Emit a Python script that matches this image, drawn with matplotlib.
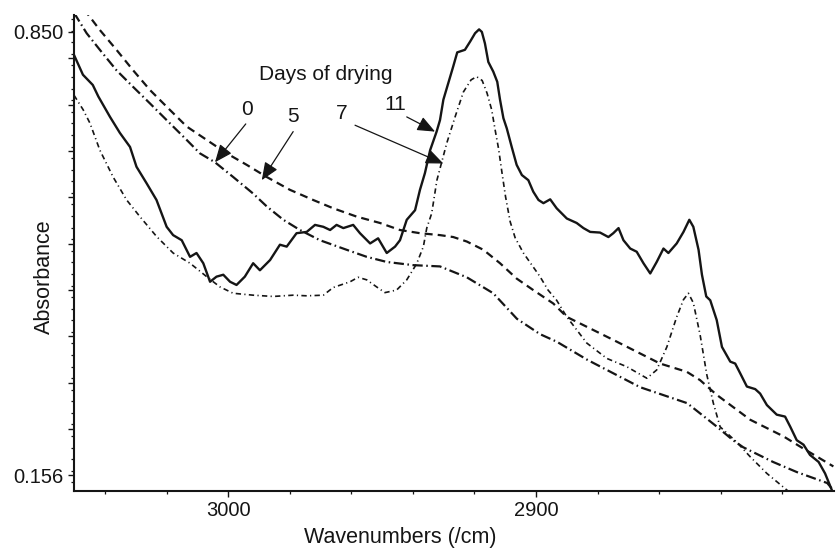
import matplotlib
matplotlib.use("Agg")
import matplotlib.pyplot as plt
from matplotlib.ticker import FixedLocator, FixedFormatter, MultipleLocator

plt.rcParams['font.family'] = ['Liberation Sans', 'DejaVu Sans']

# ---------------- data ----------------
# Day 11 (solid)
wn_d11 = [3050.1, 3047.2, 3044.0, 3042.2, 3038.4, 3035.2, 3031.9, 3029.8, 3026.5, 3023.3,
          3020.0, 3017.9, 3015.1, 3012.4, 3010.3, 3008.1, 3005.9, 3003.8, 3001.6, 2999.4,
          2997.3, 2994.6, 2991.9, 2989.7, 2986.4, 2983.2, 2981.0, 2977.8, 2974.5, 2971.8,
          2969.1, 2966.9, 2964.8, 2962.6, 2959.4, 2957.2, 2953.9, 2951.3, 2948.5, 2945.8,
          2944.2, 2942.0, 2939.3, 2937.7, 2936.1, 2934.4, 2932.3, 2931.2, 2930.1, 2928.5,
          2926.9, 2925.6, 2923.1, 2921.4, 2919.8, 2918.5, 2917.6, 2916.6, 2915.5, 2913.9,
          2912.6, 2911.7, 2910.6, 2909.5, 2907.9, 2906.3, 2904.6, 2902.5, 2900.9, 2899.2,
          2897.6, 2895.4, 2893.3, 2890.0, 2886.8, 2884.6, 2882.4, 2879.2, 2876.5, 2874.9,
          2873.2, 2871.6, 2869.4, 2867.3, 2865.1, 2862.9, 2860.8, 2858.6, 2857.0, 2854.3,
          2852.1, 2850.2, 2848.9, 2847.2, 2846.1, 2844.7, 2843.4, 2841.3, 2839.6, 2836.9,
          2835.3, 2833.7, 2831.5, 2828.8, 2827.2, 2825.0, 2821.8, 2819.1, 2817.4, 2815.3,
          2813.1, 2811.0, 2808.2, 2806.1, 2803.9]
ab_d11 = [0.814, 0.783, 0.767, 0.749, 0.717, 0.692, 0.670, 0.639, 0.613, 0.587,
          0.545, 0.532, 0.524, 0.498, 0.504, 0.488, 0.459, 0.467, 0.470, 0.459,
          0.454, 0.467, 0.488, 0.477, 0.493, 0.517, 0.514, 0.535, 0.537, 0.548,
          0.545, 0.540, 0.548, 0.543, 0.548, 0.535, 0.519, 0.527, 0.504, 0.514,
          0.524, 0.556, 0.571, 0.603, 0.629, 0.665, 0.694, 0.712, 0.744, 0.770,
          0.796, 0.818, 0.822, 0.835, 0.848, 0.854, 0.850, 0.832, 0.803, 0.788,
          0.772, 0.744, 0.715, 0.699, 0.670, 0.642, 0.626, 0.618, 0.600, 0.587,
          0.582, 0.588, 0.574, 0.558, 0.551, 0.543, 0.537, 0.536, 0.529, 0.535,
          0.543, 0.524, 0.511, 0.506, 0.488, 0.472, 0.490, 0.511, 0.504, 0.519,
          0.537, 0.556, 0.545, 0.509, 0.470, 0.436, 0.430, 0.399, 0.357, 0.334,
          0.331, 0.316, 0.295, 0.291, 0.284, 0.266, 0.251, 0.248, 0.232, 0.211,
          0.204, 0.188, 0.177, 0.159, 0.133]

# Day 5 (dashed)
wn_d5 = [3050.1, 3045.5, 3041.7, 3036.3, 3030.9, 3025.4, 3020.0, 3013.5, 3007.0, 3000.5,
         2994.0, 2987.5, 2980.0, 2972.4, 2965.9, 2958.3, 2950.7, 2944.2, 2937.7, 2931.2,
         2926.9, 2922.5, 2917.1, 2911.7, 2906.3, 2900.9, 2894.4, 2890.0, 2874.9, 2859.7,
         2851.0, 2846.7, 2841.3, 2830.4, 2819.6, 2814.2, 2803.4]
ab_d5 = [0.905, 0.877, 0.853, 0.822, 0.790, 0.759, 0.733, 0.702, 0.681, 0.660,
         0.642, 0.623, 0.603, 0.587, 0.574, 0.561, 0.551, 0.540, 0.535, 0.532,
         0.529, 0.522, 0.509, 0.488, 0.464, 0.446, 0.425, 0.404, 0.368, 0.331,
         0.318, 0.305, 0.282, 0.243, 0.217, 0.201, 0.170]

# Day 0 (dash-dot)
wn_d0 = [3050.1, 3046.0, 3041.7, 3036.3, 3030.9, 3025.4, 3020.0, 3013.5, 3009.2, 3004.3,
         2998.4, 2991.9, 2987.5, 2982.1, 2976.7, 2970.2, 2961.5, 2955.0, 2948.5, 2939.9,
         2931.2, 2922.5, 2913.9, 2906.2, 2898.7, 2893.2, 2883.4, 2866.2, 2850.9, 2841.2,
         2836.0, 2832.7, 2823.0, 2815.2, 2805.4, 2803.5]
ab_d0 = [0.880, 0.848, 0.822, 0.790, 0.764, 0.738, 0.712, 0.681, 0.660, 0.646,
         0.623, 0.597, 0.577, 0.556, 0.540, 0.524, 0.509, 0.498, 0.490, 0.485,
         0.483, 0.466, 0.441, 0.401, 0.377, 0.365, 0.337, 0.294, 0.269, 0.232,
         0.211, 0.200, 0.177, 0.161, 0.144, 0.133]

# Day 7 (thin dash-dot)
wn_d7 = [3050.1, 3047.1, 3044.9, 3041.7, 3037.4, 3033.0, 3028.7, 3023.3, 3017.9, 3012.4,
         3007.0, 3002.7, 2998.4, 2991.9, 2985.4, 2978.9, 2974.5, 2969.1, 2965.9, 2960.4,
         2957.8, 2955.0, 2951.8, 2949.1, 2945.3, 2942.0, 2938.8, 2936.6, 2935.5, 2933.9,
         2932.2, 2929.0, 2926.3, 2923.6, 2921.1, 2919.3, 2917.5, 2915.9, 2914.4, 2913.3,
         2912.2, 2911.1, 2909.9, 2908.4, 2906.8, 2904.1, 2898.7, 2896.1, 2893.3, 2890.0,
         2883.5, 2877.0, 2870.5, 2864.0, 2860.8, 2857.5, 2854.3, 2852.1, 2850.5, 2848.9,
         2846.7, 2844.5, 2842.4, 2840.2, 2834.8, 2830.4, 2825.0, 2818.5, 2814.2]
ab_d7 = [0.751, 0.728, 0.707, 0.665, 0.623, 0.587, 0.561, 0.530, 0.504, 0.488,
         0.467, 0.451, 0.441, 0.438, 0.436, 0.438, 0.437, 0.438, 0.450, 0.459,
         0.466, 0.462, 0.451, 0.442, 0.446, 0.462, 0.487, 0.514, 0.543, 0.566,
         0.618, 0.676, 0.717, 0.756, 0.775, 0.780, 0.774, 0.754, 0.728, 0.697,
         0.668, 0.631, 0.592, 0.553, 0.528, 0.504, 0.467, 0.446, 0.430, 0.404,
         0.363, 0.339, 0.326, 0.308, 0.321, 0.357, 0.404, 0.431, 0.441, 0.426,
         0.376, 0.313, 0.269, 0.232, 0.208, 0.185, 0.159, 0.133, 0.113]

# tick values
x_major = [3000, 2900]
x_major_labels = ["3000", "2900"]
y_major = [0.156, 0.2285, 0.301, 0.3735, 0.446, 0.5185, 0.591, 0.6635, 0.736, 0.8085, 0.850]
y_major_labels = ["0.156", "", "", "", "", "", "", "", "", "", "0.850"]

# annotation labels: (label, text position, arrow tail, arrow tip)
day_labels = ["0", "5", "7", "11"]
label_pos = [(2994.0, 0.728), (2978.9, 0.717), (2963.1, 0.723), (2945.8, 0.736)]
arrow_tail = [(2994.3, 0.706), (2978.9, 0.694), (2958.8, 0.704), (2942.0, 0.717)]
arrow_tip = [(3004.3, 0.646), (2989.1, 0.618), (2930.1, 0.644), (2932.8, 0.694)]

# ---------------- figure ----------------
fig = plt.figure(figsize=(8.36, 5.52), dpi=100)
ax = fig.add_axes([74 / 836, 61.3 / 552, 760 / 836, 475.7 / 552])

ink = "#151515"
ax.plot(wn_d5, ab_d5, color=ink, lw=1.6, dashes=(3.6, 2.3))
ax.plot(wn_d0, ab_d0, color=ink, lw=1.6, dashes=(4.6, 1.6, 0.7, 1.6))
ax.plot(wn_d7, ab_d7, color=ink, lw=1.2, dashes=(3.2, 2.0, 0.7, 2.0))
ax.plot(wn_d11, ab_d11, color=ink, lw=1.7, solid_joinstyle='round')

ax.set_xlim(3050.1, 2803.2)
ax.set_ylim(0.132, 0.8765)

for s in ["top", "right"]:
    ax.spines[s].set_visible(False)
for s in ["left", "bottom"]:
    ax.spines[s].set_linewidth(1.5)
    ax.spines[s].set_color(ink)

ax.xaxis.set_major_locator(FixedLocator(x_major))
ax.xaxis.set_major_formatter(FixedFormatter(x_major_labels))
ax.xaxis.set_minor_locator(MultipleLocator(20))
ax.yaxis.set_major_locator(FixedLocator(y_major))
ax.yaxis.set_major_formatter(FixedFormatter(y_major_labels))
ax.yaxis.set_minor_locator(MultipleLocator(0.018125))

ax.tick_params(axis='both', which='major', direction='out', length=4.5, width=1.0,
               colors=ink, labelsize=14.5, pad=3)
ax.tick_params(axis='both', which='minor', direction='out', length=2.5, width=0.9,
               colors=ink)

fig.text(400 / 836, 1 - 538 / 552, "Wavenumbers (/cm)", ha='center', va='center',
         fontsize=15.5, color=ink)
fig.text(44 / 836, 1 - 277 / 552, "Absorbance", ha='center', va='center',
         rotation=90, fontsize=15.5, color=ink)

ax.text(2968.3, 0.783, "Days of drying", ha='center', va='center', fontsize=15, color=ink)
for lab, pos, tail, tip in zip(day_labels, label_pos, arrow_tail, arrow_tip):
    ax.text(pos[0], pos[1], lab, ha='center', va='center', fontsize=15, color=ink)
    ax.annotate("", xy=tip, xytext=tail,
                arrowprops=dict(arrowstyle='-|>,head_length=0.6,head_width=0.25',
                                mutation_scale=18, color=ink, lw=0.9,
                                shrinkA=0, shrinkB=0))

fig.savefig("out.png", dpi=100)
